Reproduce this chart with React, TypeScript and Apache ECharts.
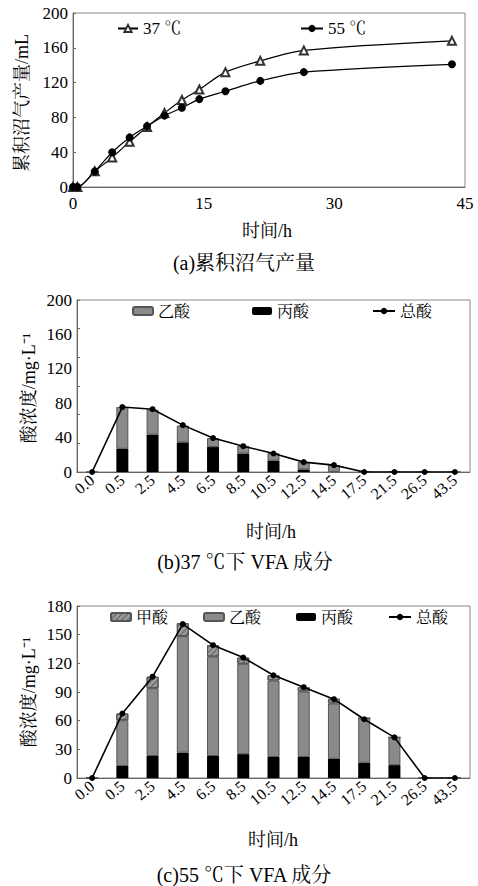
import React, { useEffect, useRef } from "react";
import * as echarts from "echarts";

// ---- Data ----
const timeA = [0, 0.5, 2.5, 4.5, 6.5, 8.5, 10.5, 12.5, 14.5, 17.5, 21.5, 26.5, 43.5];
const gas37 = [0, 0, 18, 34, 52, 69, 85, 100, 112, 132, 145, 157, 168];
const gas55 = [0, 0, 18, 40, 57, 70, 82, 91, 101, 110, 122, 132, 141];

const timeCats = ["0.0", "0.5", "2.5", "4.5", "6.5", "8.5", "10.5", "12.5", "14.5", "17.5", "21.5", "26.5", "43.5"];

const propionic37 = [0, 27, 43.5, 34.5, 29, 21.5, 13, 3, 0, 0, 0, 0, 0];
const acetic37 = [0, 48.5, 29, 19.5, 10.5, 9, 9, 8.5, 8, 0, 0, 0, 0];
const total37 = [0, 75.5, 73, 54.5, 39.5, 30, 21.5, 11.5, 8, 0, 0, 0, 0];

const propionic55 = [0, 12.5, 23, 26.5, 23, 25, 22, 22, 20, 16, 13.5, 0, 0];
const acetic55 = [0, 48, 71, 122, 104, 94.5, 80, 68.5, 58, 46.5, 29, 0, 0];
const formic55 = [0, 7, 12, 13.5, 12, 6.5, 5.5, 4.5, 5, 0, 0, 0, 0];
const total55 = [0, 67.5, 106, 161, 139, 126, 107.5, 95, 82.5, 61.5, 42.5, 0, 0];

const FONT = "'Liberation Serif', 'Noto Serif CJK SC', 'Noto Sans CJK SC', serif";
const AXIS_COLOR = "#666";
const GRAY = "#8a8a8a";

export default function App() {
  const ref = useRef<HTMLDivElement>(null);

  useEffect(() => {
    if (!ref.current) return;
    const chart = echarts.init(ref.current, undefined, { renderer: "svg" });

    const gridBase = { show: true, borderColor: "#888", borderWidth: 1, backgroundColor: "transparent" };
    const numLabel = { fontSize: 17, color: "#000", fontFamily: FONT };
    const catAxis = (gi: number) => ({
      gridIndex: gi,
      type: "category",
      data: timeCats,
      boundaryGap: true,
      axisLine: { lineStyle: { color: AXIS_COLOR } },
      axisTick: { show: false },
      splitLine: { show: false },
      axisLabel: { rotate: 40, fontSize: 16, color: "#000", fontFamily: FONT, margin: 6, interval: 0 },
    });

    const legendText = { fontSize: 16, color: "#000", fontFamily: FONT };
    const mkLegend = (name: string, left: number, top: number, w = 20, h = 8, fs = 16) => ({
      data: [name],
      left,
      top,
      padding: 0,
      itemWidth: w,
      itemHeight: h,
      selectedMode: false,
      textStyle: { ...legendText, fontSize: fs },
    });

    const hatch = {
      symbol: "rect",
      symbolSize: 1,
      color: "rgba(50,50,50,0.55)",
      dashArrayX: [1, 0],
      dashArrayY: [1, 3],
      rotation: -Math.PI / 4,
    };

    const option: any = {
      animation: false,
      backgroundColor: "#fff",
      textStyle: { fontFamily: FONT },
      grid: [
        { ...gridBase, left: 73, top: 13, width: 392, height: 174 },
        { ...gridBase, left: 77, top: 300, width: 393, height: 172 },
        { ...gridBase, left: 77, top: 606, width: 393, height: 172 },
      ],
      xAxis: [
        {
          gridIndex: 0,
          type: "value",
          min: 0,
          max: 45,
          interval: 15,
          axisLine: { lineStyle: { color: AXIS_COLOR } },
          axisTick: { show: false },
          splitLine: { show: false },
          axisLabel: { ...numLabel, margin: 8 },
        },
        catAxis(1),
        catAxis(2),
      ],
      yAxis: [
        {
          gridIndex: 0,
          type: "value",
          min: 0,
          max: 200,
          interval: 40,
          axisLine: { show: true, lineStyle: { color: AXIS_COLOR } },
          axisTick: { show: true, inside: true, length: 3, lineStyle: { color: AXIS_COLOR } },
          splitLine: { show: false },
          axisLabel: { ...numLabel, margin: 5 },
        },
        {
          gridIndex: 1,
          type: "value",
          position: "left",
          min: 0,
          max: 200,
          interval: 200 / 6,
          axisLine: { show: true, lineStyle: { color: AXIS_COLOR } },
          axisTick: { show: true, inside: true, length: 3, lineStyle: { color: AXIS_COLOR } },
          splitLine: { show: false },
          axisLabel: { show: false },
        },
        {
          gridIndex: 1,
          type: "value",
          position: "left",
          min: 0,
          max: 200,
          interval: 40,
          axisLine: { show: false },
          axisTick: { show: false },
          splitLine: { show: false },
          axisLabel: { ...numLabel, margin: 5 },
        },
        {
          gridIndex: 2,
          type: "value",
          min: 0,
          max: 180,
          interval: 30,
          axisLine: { show: true, lineStyle: { color: AXIS_COLOR } },
          axisTick: { show: true, inside: true, length: 3, lineStyle: { color: AXIS_COLOR } },
          splitLine: { show: false },
          axisLabel: { ...numLabel, margin: 5 },
        },
      ],
      legend: [
        mkLegend("37 ℃", 117, 20, 20, 9, 17),
        mkLegend("55 ℃", 300, 20, 22, 9, 17),
        mkLegend("乙酸", 132, 303),
        mkLegend("丙酸", 252, 303),
        mkLegend("总酸", 372, 303, 22, 8),
        mkLegend("甲酸", 110, 609),
        mkLegend("乙酸 ", 203, 609),
        mkLegend("丙酸 ", 296, 609),
        mkLegend("总酸 ", 388, 609, 22, 8),
      ],
      series: [
        // (a)
        {
          name: "37 ℃",
          type: "line",
          xAxisIndex: 0,
          yAxisIndex: 0,
          data: timeA.map((t, i) => [t, gas37[i]]),
          smooth: 0.3,
          symbol: "emptyTriangle",
          symbolSize: 8,
          lineStyle: { color: "#000", width: 1.2 },
          itemStyle: { color: "#333", borderWidth: 0.7 },
        },
        {
          name: "55 ℃",
          type: "line",
          xAxisIndex: 0,
          yAxisIndex: 0,
          data: timeA.map((t, i) => [t, gas55[i]]),
          smooth: 0.3,
          symbol: "circle",
          symbolSize: 8,
          lineStyle: { color: "#000", width: 1.2 },
          itemStyle: { color: "#000" },
        },
        // (b)
        {
          name: "丙酸",
          type: "bar",
          xAxisIndex: 1,
          yAxisIndex: 2,
          stack: "b",
          barWidth: 12,
          data: propionic37,
          itemStyle: { color: "#000" },
        },
        {
          name: "乙酸",
          type: "bar",
          xAxisIndex: 1,
          yAxisIndex: 2,
          stack: "b",
          barWidth: 12,
          data: acetic37,
          itemStyle: { color: GRAY, borderColor: "#555", borderWidth: 1 },
        },
        {
          name: "总酸",
          type: "line",
          xAxisIndex: 1,
          yAxisIndex: 2,
          data: total37,
          symbol: "circle",
          symbolSize: 6,
          z: 5,
          lineStyle: { color: "#000", width: 1.6 },
          itemStyle: { color: "#000" },
        },
        // (c)
        {
          name: "丙酸 ",
          type: "bar",
          xAxisIndex: 2,
          yAxisIndex: 3,
          stack: "c",
          barWidth: 12,
          data: propionic55,
          itemStyle: { color: "#000" },
        },
        {
          name: "乙酸 ",
          type: "bar",
          xAxisIndex: 2,
          yAxisIndex: 3,
          stack: "c",
          barWidth: 12,
          data: acetic55,
          itemStyle: { color: GRAY, borderColor: "#555", borderWidth: 1 },
        },
        {
          name: "甲酸",
          type: "bar",
          xAxisIndex: 2,
          yAxisIndex: 3,
          stack: "c",
          barWidth: 12,
          data: formic55,
          itemStyle: { color: "#999", borderColor: "#555", borderWidth: 1, decal: hatch },
        },
        {
          name: "总酸 ",
          type: "line",
          xAxisIndex: 2,
          yAxisIndex: 3,
          data: total55,
          symbol: "circle",
          symbolSize: 6,
          z: 5,
          lineStyle: { color: "#000", width: 1.6 },
          itemStyle: { color: "#000" },
        },
      ],
      graphic: [
        {
          type: "text",
          x: 22,
          y: 103,
          rotation: Math.PI / 2,
          style: { text: "累积沼气产量/mL", font: `18px ${FONT}`, fill: "#000", textAlign: "center", textVerticalAlign: "middle" },
        },
        {
          type: "text",
          x: 29,
          y: 388,
          rotation: Math.PI / 2,
          style: { text: "酸浓度/mg·L⁻¹", font: `18px ${FONT}`, fill: "#000", textAlign: "center", textVerticalAlign: "middle" },
        },
        {
          type: "text",
          x: 29,
          y: 692,
          rotation: Math.PI / 2,
          style: { text: "酸浓度/mg·L⁻¹", font: `18px ${FONT}`, fill: "#000", textAlign: "center", textVerticalAlign: "middle" },
        },
        { type: "text", x: 267, y: 231, style: { text: "时间/h", font: `18px ${FONT}`, fill: "#000", textAlign: "center", textVerticalAlign: "middle" } },
        { type: "text", x: 271, y: 532, style: { text: "时间/h", font: `18px ${FONT}`, fill: "#000", textAlign: "center", textVerticalAlign: "middle" } },
        { type: "text", x: 273, y: 840, style: { text: "时间/h", font: `18px ${FONT}`, fill: "#000", textAlign: "center", textVerticalAlign: "middle" } },
        { type: "text", x: 244, y: 263, style: { text: "(a)累积沼气产量", font: `20px ${FONT}`, fill: "#000", textAlign: "center", textVerticalAlign: "middle" } },
        { type: "text", x: 245, y: 562, style: { text: "(b)37 ℃下 VFA 成分", font: `20px ${FONT}`, fill: "#000", textAlign: "center", textVerticalAlign: "middle" } },
        { type: "text", x: 244, y: 875, style: { text: "(c)55 ℃下 VFA 成分", font: `20px ${FONT}`, fill: "#000", textAlign: "center", textVerticalAlign: "middle" } },
      ],
    };

    chart.setOption(option);
    return () => chart.dispose();
  }, []);

  return <div ref={ref} style={{ position: "absolute", left: 0, top: 0, width: 478, height: 886 }} />;
}
